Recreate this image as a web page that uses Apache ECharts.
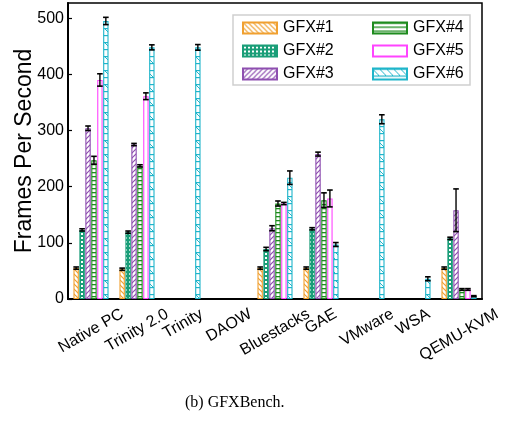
<!DOCTYPE html>
<html><head><meta charset="utf-8">
<script src="https://cdn.jsdelivr.net/npm/echarts@6/dist/echarts.min.js"></script>
<style>html,body{margin:0;padding:0;background:#fff}#c{width:505px;height:424px}</style>
</head><body><div id="c"></div>
<script>
// ---- data ----
const categories = ['Native PC','Trinity 2.0','Trinity','DAOW','Bluestacks','GAE','VMware','WSA','QEMU-KVM'];
const seriesNames = ['GFX#1','GFX#2','GFX#3','GFX#4','GFX#5','GFX#6'];
const gfx1 = [55, 53, null, null, 55, 55, null, null, 55];
const gfx2 = [123, 119, null, null, 89, 125, null, null, 108];
const gfx3 = [304, 275, null, null, 126, 258, null, null, 158];
const gfx4 = [247, 237, null, null, 170, 176, null, null, 17];
const gfx5 = [390, 361, null, null, 170, 179, null, null, 17];
const gfx6 = [495, 448, 448, null, 216, 97, 320, 36, 5];
const err1 = [2, 2, 0, 0, 2, 2, 0, 0, 2];
const err2 = [2, 2, 0, 0, 3, 2, 0, 0, 2];
const err3 = [4, 2, 0, 0, 4.5, 3.5, 0, 0, 38];
const err4 = [7, 2, 0, 0, 4.5, 13, 0, 0, 1.5];
const err5 = [11, 6, 0, 0, 2, 15, 0, 0, 1.5];
const err6 = [6.5, 4.5, 5, 0, 12, 3.5, 8, 3.5, 1];
const yTicks = [0, 100, 200, 300, 400, 500];

const values = [gfx1, gfx2, gfx3, gfx4, gfx5, gfx6];
const errors = [err1, err2, err3, err4, err5, err6];
const colors = ['#F0A030', '#1A9E78', '#8E4FB0', '#1E8C1E', '#FF44FF', '#1FB5CA'];

// ---- hatch patterns ----
function mk(w, h, draw) {
  const c = document.createElement('canvas'); c.width = w; c.height = h;
  const g = c.getContext('2d'); g.fillStyle = '#fff'; g.fillRect(0, 0, w, h);
  draw(g, w, h); return { image: c, repeat: 'repeat' };
}
const patterns = [
  mk(5, 5, (g, w, h) => { g.strokeStyle = colors[0]; g.lineWidth = 1.2;
    for (let k = -1; k <= 1; k++) { g.beginPath(); g.moveTo(k*w-1, -1); g.lineTo(k*w+w+1, h+1); g.stroke(); } }),
  mk(4, 4, (g, w, h) => { g.fillStyle = colors[1]; g.fillRect(0, 0, w, h); g.fillStyle = '#fff'; g.fillRect(1, 1, 2, 2); }),
  mk(5, 5, (g, w, h) => { g.strokeStyle = colors[2]; g.lineWidth = 1.2;
    for (let k = -1; k <= 1; k++) { g.beginPath(); g.moveTo(k*w-1, h+1); g.lineTo(k*w+w+1, -1); g.stroke(); } }),
  mk(4, 4, (g, w, h) => { g.fillStyle = colors[3]; g.fillRect(0, 0, w, 1.3); }),
  mk(4, 4, (g, w, h) => {}),
  mk(7, 14, (g, w, h) => { g.fillStyle = colors[5]; g.fillRect(0, 0, w, 1.2); g.fillRect(0, 7, w, 1.2);
    g.strokeStyle = colors[5]; g.lineWidth = 1;
    g.beginPath(); g.moveTo(0, 1); g.lineTo(6, 7); g.stroke(); })
];

const BW = 5.4, GAPF = 0.1, GAP = BW * GAPF;

// ---- rotated x labels, centred on tick like matplotlib ----
const th = 30 * Math.PI / 180, LH = 16, FONT = '"Liberation Sans", Arial, sans-serif';
const mctx = document.createElement('canvas').getContext('2d');
mctx.font = '16px "Liberation Sans"';
const rich = {};
categories.forEach((c, i) => {
  const L = mctx.measureText(c).width;
  const D = (L * Math.sin(th) + LH * Math.cos(th)) / 2;
  rich['c' + i] = { padding: [2*D*Math.cos(th), 2*D*Math.sin(th), 0, 0], fontSize: 16, fontFamily: FONT, color: '#000' };
});

function errRender(i) {
  return function (params, api) {
    const cat = api.value(0), v = api.value(1), e = api.value(2);
    const x = api.coord([cat, v])[0] + (i - 2.5) * (BW + GAP);
    const top = api.coord([cat, v + e])[1];
    const bot = api.coord([cat, Math.max(v - e, 0)])[1];
    const hw = 2.8;
    const st = { stroke: '#000', lineWidth: 1.4 };
    return { type: 'group', children: [
      { type: 'line', shape: { x1: x, y1: top, x2: x, y2: bot }, style: st },
      { type: 'line', shape: { x1: x - hw, y1: top, x2: x + hw, y2: top }, style: { stroke: '#000', lineWidth: 1.6 } },
      { type: 'line', shape: { x1: x - hw, y1: bot, x2: x + hw, y2: bot }, style: { stroke: '#000', lineWidth: 1.6 } }
    ]};
  };
}

const series = [];
seriesNames.forEach((n, i) => {
  series.push({
    name: n, type: 'bar', data: values[i], barWidth: BW, barGap: (GAPF*100) + '%',
    itemStyle: { color: patterns[i], borderColor: colors[i], borderWidth: 1.1 },
    emphasis: { disabled: true }, z: 2
  });
});
seriesNames.forEach((n, i) => {
  const d = [];
  values[i].forEach((v, k) => { if (v) d.push([k, v, errors[i][k]]); });
  series.push({ name: 'err' + i, type: 'custom', renderItem: errRender(i), data: d,
    encode: { x: 0, y: 1 }, z: 5, silent: true });
});

const legendBase = {
  orient: 'vertical', icon: 'rect', itemWidth: 34, itemHeight: 11, itemGap: 7,
  selectedMode: false,
  textStyle: { fontSize: 16, fontFamily: FONT, color: '#000', padding: [0, 0, 0, 1], lineHeight: 16 }
};

const chart = echarts.init(document.getElementById('c'), null, { renderer: 'canvas' });
chart.setOption({
  animation: false,
  backgroundColor: '#fff',
  title: { text: '(b) GFXBench.', left: 185, top: 395, padding: 0,
    textStyle: { fontFamily: '"Liberation Serif", serif', fontSize: 16, fontWeight: 'normal', color: '#000' } },
  grid: { left: 68, right: 23, top: 3, bottom: 125, show: true, borderColor: '#000', borderWidth: 1.5,
    containLabel: false, outerBoundsMode: 'none' },
  legend: [
    Object.assign({}, legendBase, { data: seriesNames.slice(0, 3), left: 237, top: 15 }),
    Object.assign({}, legendBase, { data: seriesNames.slice(3), left: 367, top: 15 })
  ],
  graphic: [{ type: 'rect', shape: { x: 233, y: 15, width: 237, height: 70 }, z: 3,
    style: { fill: 'rgba(255,255,255,0.85)', stroke: '#cfcfcf', lineWidth: 1.5 } }],
  xAxis: {
    type: 'category', data: categories, boundaryGap: true,
    axisLine: { lineStyle: { color: '#000', width: 2 } },
    axisTick: { inside: true, alignWithLabel: true, length: 4, lineStyle: { color: '#000', width: 1.2 } },
    axisLabel: { interval: 0, rotate: 30, align: 'center', verticalAlign: 'middle', margin: 7,
      formatter: (v, idx) => '{c' + idx + '|' + v + '}', rich: rich }
  },
  yAxis: {
    type: 'value', min: 0, max: 527,
    name: 'Frames Per Second', nameLocation: 'middle', nameGap: 32, nameMoveOverlap: false,
    nameTextStyle: { fontSize: 23, fontFamily: FONT, color: '#000' },
    axisLine: { show: true, lineStyle: { color: '#000', width: 2 } },
    axisTick: { show: true, inside: true, length: 4, customValues: yTicks, lineStyle: { color: '#000', width: 1.2 } },
    axisLabel: { customValues: yTicks, fontSize: 16, fontFamily: FONT, color: '#000', margin: 4 },
    splitLine: { show: false }
  },
  series: series
});
</script></body></html>
